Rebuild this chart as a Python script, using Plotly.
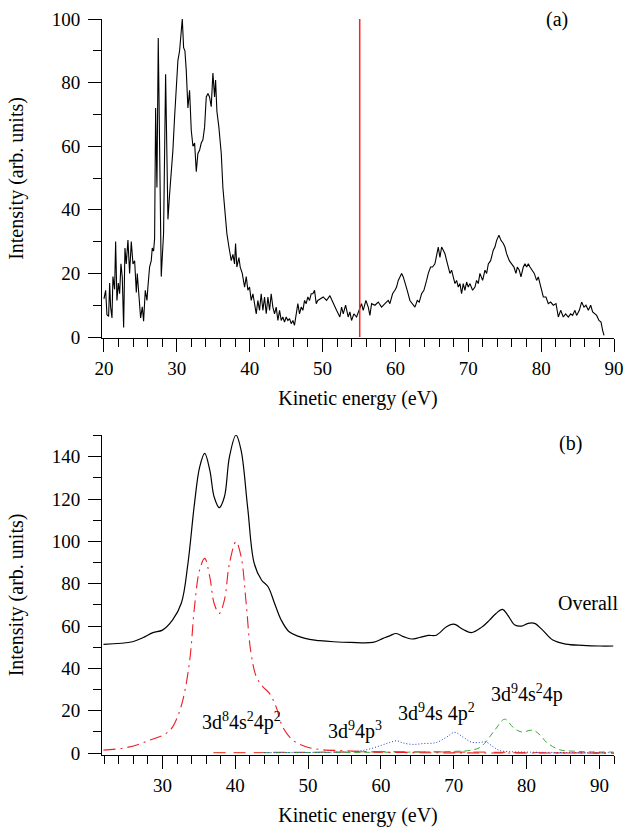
import plotly.graph_objects as go

# ---------------- Panel (a): measured spectrum ----------------
energy_a = [
    20.00, 20.23, 20.41, 20.64, 20.78, 20.91, 21.10, 21.23, 21.46, 21.60,
    21.78, 21.97, 22.15, 22.33, 22.51, 22.70, 22.88, 23.06, 23.29, 23.52,
    23.75, 23.98, 24.21, 24.44, 24.57, 24.80, 25.03, 25.26, 25.44, 25.67,
    25.90, 26.04, 26.26, 26.49, 26.63, 26.81, 26.95, 27.09, 27.27, 27.45,
    27.64, 27.86, 28.00, 28.18, 28.46, 28.78, 29.01, 29.24, 29.46, 29.69,
    29.92, 30.15, 30.38, 30.61, 30.75, 30.93, 31.11, 31.29, 31.52, 31.75,
    31.98, 32.21, 32.44, 32.67, 32.89, 33.12, 33.35, 33.58, 33.81, 34.04,
    34.27, 34.49, 34.72, 34.95, 35.18, 35.32, 35.50, 35.77, 36.10, 36.32,
    36.60, 36.87, 37.15, 37.47, 37.70, 37.92, 38.06, 38.24, 38.52, 38.70,
    38.98, 39.30, 39.53, 39.75, 39.98, 40.21, 40.44, 40.67, 40.90, 41.12,
    41.35, 41.58, 41.81, 42.04, 42.27, 42.50, 42.73, 42.95, 43.18, 43.41,
    43.64, 43.87, 44.10, 44.33, 44.55, 44.78, 45.01, 45.24, 45.47, 45.70,
    45.93, 46.15, 46.38, 46.61, 46.84, 47.07, 47.30, 47.53, 47.75, 47.98,
    48.21, 48.44, 48.67, 48.90, 49.13, 49.35,
    50.09, 50.55, 51.01, 51.46, 51.92, 52.38, 52.61, 52.84, 53.16, 53.52,
    53.75, 53.98, 54.30, 54.67, 55.03, 55.35, 55.58, 55.95, 56.27, 56.50,
    56.73, 57.19, 57.64, 58.10, 58.56, 59.02, 59.24, 59.61, 59.93, 60.16,
    60.39, 60.62, 60.85, 61.08, 61.30, 61.62, 61.99, 62.45, 62.68, 63.00,
    63.27, 63.59, 63.91, 64.28, 64.51, 64.83, 65.10, 65.42, 65.65, 65.88,
    66.11, 66.34, 66.57, 66.80, 67.03, 67.25, 67.48, 67.71, 67.94, 68.17,
    68.40, 68.63, 68.86, 69.08, 69.31, 69.54, 69.77, 70.00, 70.23, 70.59,
    70.92, 71.14, 71.37, 71.60, 71.97, 72.29, 72.52, 72.75, 73.07, 73.43,
    73.66, 73.89, 74.21, 74.49, 74.81, 75.03, 75.26, 75.63, 75.95, 76.27,
    76.54, 76.73, 77.00, 77.23, 77.55, 77.78, 78.01, 78.24, 78.47, 78.79,
    79.06, 79.38, 79.61, 79.84, 80.07, 80.30, 80.66, 80.98, 81.30, 81.67,
    82.04, 82.36, 82.68, 83.04, 83.36, 83.73, 84.05, 84.32, 84.64, 84.87,
    85.24, 85.56, 85.88, 86.15, 86.48, 86.80, 87.07, 87.39, 87.62, 87.94,
    88.22, 88.44, 88.63,
]
intensity_a = [
    12, 14.7, 7, 6.5, 17, 9.5, 6, 19, 15, 30,
    11.5, 17, 13.6, 23, 19, 3, 28, 23, 30.5, 20,
    30, 23, 24, 14, 20, 11.5, 6, 9.5, 5, 14.7,
    11.5, 16, 22, 24, 28, 27, 31, 72, 47, 94,
    55, 19, 25, 32.5, 82.6, 37, 45, 51.4, 58.7, 69,
    80, 87, 90, 95.5, 100, 91, 90, 84, 72, 77.6,
    65, 60, 61, 52, 57.7, 58.7, 61, 62, 66, 75.5,
    76.6, 75.5, 72.4, 83, 75.5, 80.8, 71, 66, 57.7, 47,
    38.8, 32.5, 28.3, 24, 26, 23, 29.4, 22, 25, 22,
    20, 15.7, 19, 14.7, 15.7, 11.5, 13.6, 10.5, 7.3, 11.5,
    8.4, 13.6, 8.4, 12.6, 7.3, 12.6, 8.4, 13.6, 9.4, 7.3,
    9.4, 5.2, 8.4, 5.2, 6.3, 4.7, 6.3, 5.2, 5.8, 4.2,
    5.2, 3.7, 6.8, 10.5, 7.3, 9.4, 8.4, 11.5, 10.5, 12.6,
    11.5, 13.6, 13.6, 14.7, 10.5, 11.5,
    12.6, 11.5, 13, 10.5, 8.4, 6.3, 9.4, 7.3, 10, 6.3,
    7.9, 5.2, 7.3, 6.3, 8.4, 10.5, 8.4, 11.5, 9.4, 6.8,
    10.5, 10, 11, 9.4, 10.5, 11.5, 10.5, 13.6, 14.7, 15.7,
    17.8, 18.9, 20, 18.9, 16.8, 14.7, 11.5, 10, 9.4, 11.5,
    11, 13.6, 14.7, 17.8, 20, 22, 22, 23, 26.2, 28.3,
    25, 28.3, 27.3, 26.2, 24, 22, 20, 21, 18.9, 16.8,
    17.8, 15.7, 16.8, 13.6, 16.8, 14.7, 17.3, 15.7, 16.8, 14.7,
    15.7, 17.8, 16.8, 20, 17.8, 21, 20, 23, 24, 27.3,
    28.3, 30.4, 32, 30.4, 29.4, 28.3, 26.2, 24, 23, 22,
    20, 22, 21, 18.9, 22, 23, 22, 23, 22, 21,
    20, 17.8, 18.9, 16.8, 14.7, 12.6, 12.6, 10.5, 11, 10,
    10.5, 6.3, 8.4, 6.3, 7.3, 6.3, 7.3, 6.8, 8.4, 6.8,
    8.4, 11, 9.4, 10, 8.4, 10, 7.9, 7.3, 6.8, 5.2,
    4.7, 2.1, 0.5,
]
marker_energy = 55.1  # red vertical marker in panel (a)

# ---------------- Panel (b): calculated spectra ----------------
overall_energy = [21.9, 25.9, 27.3, 28.7, 30.0, 31.4, 32.6, 33.5, 34.4, 35.1,
                  35.8, 36.5, 37.1, 37.8, 38.5, 39.2, 40.1, 40.8, 41.7, 42.6,
                  43.6, 44.5, 45.4, 46.3, 47.4, 48.8, 50.2, 51.6, 53.5, 55.8,
                  58.9, 60.3, 61.2, 62.1, 63.1, 64.2, 65.3, 66.5, 67.6, 69.0,
                  70.0, 71.3, 72.4, 73.8, 74.9, 75.8, 76.7, 77.4, 78.4, 79.3,
                  80.2, 81.1, 82.2, 83.6, 85.4, 87.7, 90.0, 91.9]
overall_value = [51.4, 52.6, 54.5, 56.9, 58.1, 62.9, 70.9, 89.6, 118, 135,
                 141.6, 133.7, 121, 116, 121, 140, 150.3, 143, 116, 89.6,
                 81.8, 78.6, 70.7, 62.9, 57.3, 55, 53.7, 53.1, 52.6, 52.3,
                 52.3, 54.2, 55.4, 56.5, 55, 53.9, 54.6, 55.6, 55.7, 59.7,
                 60.9, 58.4, 56.9, 59.4, 62.8, 66, 67.9, 65.2, 60.5, 60,
                 61.3, 61.3, 58.1, 53.4, 51.5, 50.9, 50.6, 50.6]

d8_energy = [21.9, 24.9, 26.7, 28.2, 29.6, 30.5, 31.4, 32.4, 33.1, 33.8,
             34.4, 35.1, 35.8, 36.5, 37.1, 37.8, 38.5, 39.2, 40.1, 40.8,
             41.5, 42.1, 42.9, 43.8, 44.7, 45.6, 46.5, 47.9, 49.7, 51.6,
             54.3, 57.5, 60.0, 65.0, 70.0, 80.0, 92.0]
d8_value = [1.4, 2.5, 4.1, 6.1, 7.7, 9.3, 12.4, 20.3, 29.8, 45.5,
            69.1, 86.5, 92, 83.3, 70.7, 66, 72.3, 89.6, 99.9, 92.8,
            70.7, 48.7, 36, 31.3, 28.2, 21.9, 12.4, 6.1, 3.0, 1.7,
            1.2, 0.8, 0.4, 0.2, 0.1, 0.05, 0.0]

p3_energy = [37.0, 45.0, 55.0, 60.0, 65.0, 70.0, 75.0, 80.0, 92.0]
p3_value = [0.2, 0.3, 0.5, 0.7, 0.6, 0.5, 0.4, 0.2, 0.1]

s1_energy = [44.0, 50.0, 54.0, 57.0, 58.5, 60.0, 61.2, 62.2, 63.0, 64.4,
             65.8, 67.6, 69.0, 70.1, 71.3, 72.4, 73.5, 74.4, 75.4, 76.3,
             77.7, 79.5, 84.1, 88.6, 91.9]
s1_value = [0.2, 0.3, 0.5, 1.0, 2.0, 3.6, 5.0, 5.8, 4.8, 4.1,
            4.5, 5.0, 7.5, 9.8, 7.5, 5.2, 5.0, 5.3, 3.0, 1.2,
            0.7, 0.5, 0.3, 0.2, 0.2]

s2_energy = [44.0, 55.0, 60.0, 65.0, 70.0, 72.3, 73.5, 74.2, 75.6, 77.0,
             78.2, 79.3, 80.9, 82.0, 82.7, 84.5, 86.4, 88.6, 91.9]
s2_value = [0.2, 0.3, 0.4, 0.5, 0.8, 1.3, 2.5, 4.5, 10.7, 16.0,
            12.0, 10.0, 10.8, 8.0, 5.2, 1.6, 0.9, 0.6, 0.5]

labels_b = ["3d<sup>8</sup>4s<sup>2</sup>4p<sup>2</sup>",
            "3d<sup>9</sup>4p<sup>3</sup>",
            "3d<sup>9</sup>4s 4p<sup>2</sup>",
            "3d<sup>9</sup>4s<sup>2</sup>4p",
            "Overall"]
label_x = [40.9, 56.5, 67.6, 80.0, 88.4]
label_y = [15.0, 10.5, 19.0, 28.0, 71.0]

FONT = "Liberation Serif"
RED = "#ee1c24"

fig = go.Figure()
fig.add_trace(go.Scatter(x=energy_a, y=intensity_a, mode="lines",
                         line=dict(color="black", width=1.1),
                         xaxis="x", yaxis="y"))
fig.add_trace(go.Scatter(x=[marker_energy, marker_energy], y=[0, 100], mode="lines",
                         line=dict(color="#ff2020", width=1.5),
                         xaxis="x", yaxis="y"))

fig.add_trace(go.Scatter(x=p3_energy, y=p3_value, mode="lines",
                         line=dict(color="#e8503a", width=1.2, dash="12px,8px", shape="spline"),
                         xaxis="x2", yaxis="y2"))
fig.add_trace(go.Scatter(x=s2_energy, y=s2_value, mode="lines",
                         line=dict(color="#3aaa3a", width=1, dash="6px,4px", shape="spline"),
                         xaxis="x2", yaxis="y2"))
fig.add_trace(go.Scatter(x=s1_energy, y=s1_value, mode="lines",
                         line=dict(color="#2040d0", width=1, dash="1px,2px", shape="spline"),
                         xaxis="x2", yaxis="y2"))
fig.add_trace(go.Scatter(x=d8_energy, y=d8_value, mode="lines",
                         line=dict(color=RED, width=1.1, dash="12px,5px,2px,5px", shape="spline"),
                         xaxis="x2", yaxis="y2"))
fig.add_trace(go.Scatter(x=overall_energy, y=overall_value, mode="lines",
                         line=dict(color="black", width=1.2, shape="spline"),
                         xaxis="x2", yaxis="y2"))

axis_common = dict(showline=True, linecolor="black", linewidth=1, mirror=False,
                   showgrid=False, zeroline=False, ticks="outside", ticklen=13,
                   tickwidth=1, tickcolor="black", automargin=False,
                   ticklabeloverflow="allow",
                   tickfont=dict(family=FONT, size=19, color="black"))
xtitle = dict(text="Kinetic energy (eV)", standoff=13, font=dict(family=FONT, size=20))
ytitle = dict(text="Intensity (arb. units)", standoff=22, font=dict(family=FONT, size=20))

fig.update_layout(
    width=625, height=830,
    margin=dict(l=102, r=11, t=19, b=75),
    paper_bgcolor="white", plot_bgcolor="white",
    showlegend=False,
    font=dict(family=FONT, color="black"),
    xaxis=dict(**axis_common, domain=[0, 1], range=[19.73, 90], tick0=0, dtick=10,
               minor=dict(dtick=2, ticklen=8, ticks="outside", tickcolor="black"),
               anchor="y", title=xtitle),
    yaxis=dict(**axis_common, domain=[0.5666, 1.0], range=[-0.3, 100], tick0=0, dtick=20,
               minor=dict(dtick=10, ticklen=8, ticks="outside", tickcolor="black"),
               ticklabelstandoff=4, anchor="x", title=ytitle),
    xaxis2=dict(**axis_common, domain=[0, 1], range=[21.7, 92], tick0=0, dtick=10,
                minor=dict(dtick=2, ticklen=8, ticks="outside", tickcolor="black"),
                anchor="y2", title=xtitle),
    yaxis2=dict(**axis_common, domain=[0, 0.4348], range=[-0.9, 150.3], tick0=0, dtick=20,
                minor=dict(dtick=10, ticklen=8, ticks="outside", tickcolor="black"),
                ticklabelstandoff=4, anchor="x2", title=ytitle),
)

fig.add_annotation(x=0.914, y=1.0, xref="x domain", yref="y domain", text="(a)",
                   showarrow=False, yanchor="middle",
                   font=dict(family=FONT, size=20, color="black"))
fig.add_annotation(x=86.0, y=146.5, xref="x2", yref="y2", text="(b)", showarrow=False,
                   font=dict(family=FONT, size=20, color="black"))
for txt, lx, ly in zip(labels_b, label_x, label_y):
    fig.add_annotation(x=lx, y=ly, xref="x2", yref="y2", text=txt, showarrow=False,
                       font=dict(family=FONT, size=20, color="black"))

# remove the default page margin so the figure fills the window exactly
fig.write_html("out.html",
               config={"displayModeBar": False},
               post_script="document.body.style.margin='0';document.body.style.overflow='hidden';")
